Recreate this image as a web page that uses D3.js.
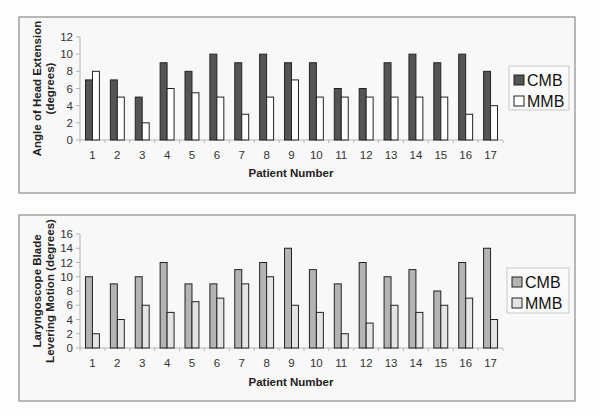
<!DOCTYPE html>
<html><head><meta charset="utf-8">
<script src="https://cdn.jsdelivr.net/npm/d3@7"></script>
<style>body{margin:0;background:#fdfdfd}svg{display:block}text{font-family:"Liberation Sans",Arial,sans-serif}</style>
</head><body><svg id="c" width="600" height="416"></svg>
<script>
const patients = ["1","2","3","4","5","6","7","8","9","10","11","12","13","14","15","16","17"];
const headCMB = [7,7,5,9,8,10,9,10,9,9,6,6,9,10,9,10,8];
const headMMB = [8,5,2,6,5.5,5,3,5,7,5,5,5,5,5,5,3,4];
const bladeCMB = [10,9,10,12,9,9,11,12,14,11,9,12,10,11,8,12,14];
const bladeMMB = [2,4,6,5,6.5,7,9,10,6,5,2,3.5,6,5,6,7,4];
const headTicks = [0,2,4,6,8,10,12];
const bladeTicks = [0,2,4,6,8,10,12,14,16];
const seriesNames = ["CMB","MMB"];

const svg = d3.select("#c");

function panel(cfg){
  const g = svg.append("g");
  g.append("rect").attr("x",cfg.box[0]).attr("y",cfg.box[1]).attr("width",cfg.box[2]).attr("height",cfg.box[3])
    .attr("fill","#f8f8f8").attr("stroke","#8a8a8a").attr("stroke-width",1.2);
  const x = d3.scaleBand().domain(patients).range([80,503]).paddingInner(0.44).paddingOuter(0.22);
  const xs = d3.scaleBand().domain(seriesNames).range([0,x.bandwidth()]);
  const y = d3.scaleLinear().domain([0,cfg.max]).range([cfg.y0,cfg.yTop]);
  // axes lines
  g.append("line").attr("x1",80).attr("x2",80).attr("y1",y(cfg.max)).attr("y2",y(0)).attr("stroke","#b5b5b5");
  g.append("line").attr("x1",80).attr("x2",503).attr("y1",y(0)).attr("y2",y(0)).attr("stroke","#b5b5b5");
  // y ticks
  cfg.ticks.forEach(t=>{
    g.append("line").attr("x1",76).attr("x2",80).attr("y1",y(t)).attr("y2",y(t)).attr("stroke","#b5b5b5");
    g.append("text").attr("x",73).attr("y",y(t)).attr("dy","0.35em").attr("text-anchor","end")
      .attr("font-size",11.5).attr("fill","#333").text(t);
  });
  // x ticks at boundaries
  patients.forEach((p,i)=>{
    const bx = x(p) - x.step()*x.paddingInner()/2 - 0; 
    const b = 80 + i*x.step();
    g.append("line").attr("x1",b).attr("x2",b).attr("y1",y(0)).attr("y2",y(0)+3).attr("stroke","#b5b5b5");
    g.append("text").attr("x",x(p)+x.bandwidth()/2).attr("y",cfg.labelY).attr("text-anchor","middle")
      .attr("font-size",11.5).attr("fill","#333").text(p);
  });
  g.append("line").attr("x1",503).attr("x2",503).attr("y1",y(0)).attr("y2",y(0)+3).attr("stroke","#b5b5b5");
  // bars
  const data = [cfg.a, cfg.b];
  data.forEach((arr,si)=>{
    g.selectAll(null).data(arr).enter().append("rect")
      .attr("x",(d,i)=>x(patients[i])+xs(seriesNames[si]))
      .attr("y",d=>y(d)).attr("width",xs.bandwidth()).attr("height",d=>y(0)-y(d))
      .attr("fill",cfg.colors[si]).attr("stroke","#222").attr("stroke-width",1);
  });
  // x title
  g.append("text").attr("x",291).attr("y",cfg.titleY).attr("text-anchor","middle").attr("font-size",11.5)
    .attr("font-weight","bold").attr("fill","#222").text("Patient Number");
  // y title
  const cy = (y(0)+y(cfg.max))/2;
  cfg.ytitle.forEach((t,i)=>{
    g.append("text").attr("transform",`translate(${cfg.ytx[i]},${cy}) rotate(-90)`).attr("text-anchor","middle")
      .attr("font-size",11.5).attr("font-weight","bold").attr("fill","#222").text(t);
  });
  // legend
  const L = cfg.legend;
  g.append("rect").attr("x",L[0]).attr("y",L[1]).attr("width",L[2]).attr("height",L[3]).attr("fill","#fafafa").attr("stroke","#c8c8c8");
  seriesNames.forEach((s,i)=>{
    const ly = L[1]+14+i*21;
    g.append("rect").attr("x",L[0]+5).attr("y",ly-5).attr("width",10).attr("height",10).attr("fill",cfg.colors[i]).attr("stroke","#222");
    g.append("text").attr("x",L[0]+18).attr("y",ly).attr("dy","0.36em").attr("font-size",16).attr("fill","#111").text(s);
  });
}

panel({box:[19,17,556,176], max:12, y0:140, yTop:37, ticks:headTicks, a:headCMB, b:headMMB,
  colors:["#555555","#ffffff"], labelY:159, titleY:177, ytitle:["Angle of Head Extension","(degrees)"], ytx:[41,54],
  legend:[509,66,60,44]});
panel({box:[19,215,556,186], max:16, y0:348, yTop:234, ticks:bladeTicks, a:bladeCMB, b:bladeMMB,
  colors:["#b4b4b4","#e4e4e4"], labelY:367, titleY:386, ytitle:["Laryngoscope Blade","Levering Motion (degrees)"], ytx:[41,54],
  legend:[507,268,62,45]});
</script></body></html>
